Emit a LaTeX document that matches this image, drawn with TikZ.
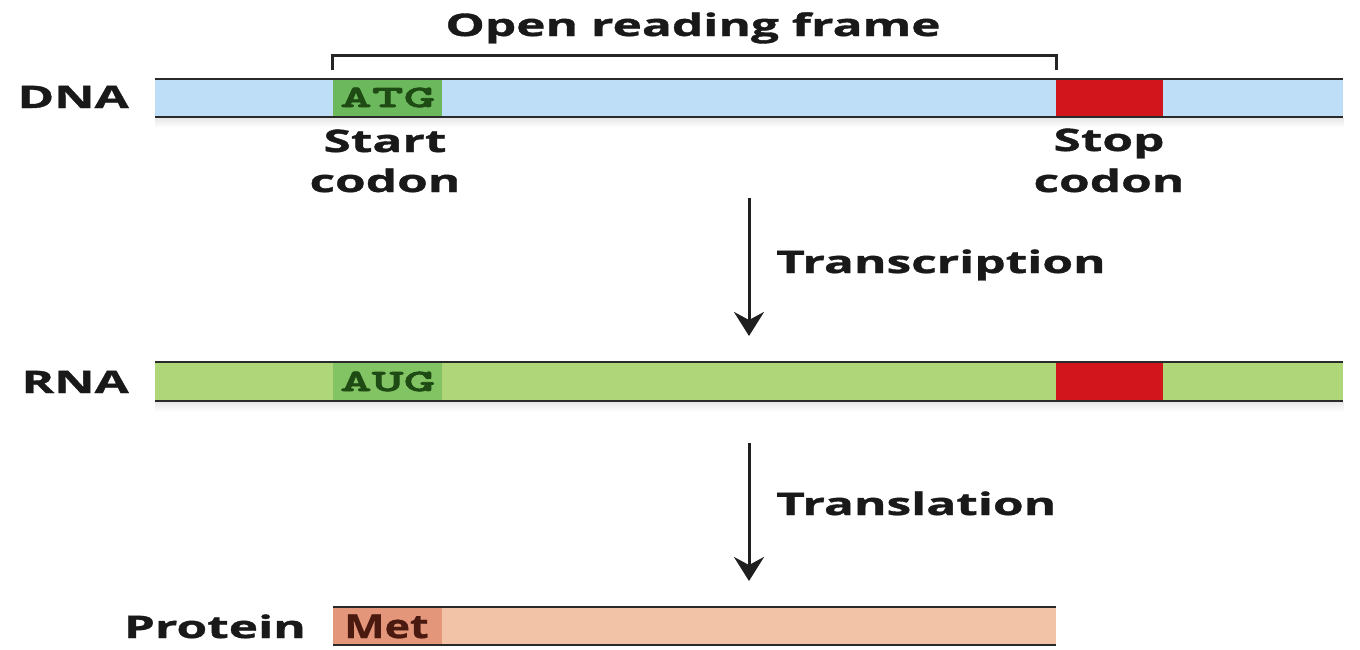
\documentclass[tikz,border=0pt]{standalone}
\usepackage{fontspec}
\setmainfont{Open Sans}
\newfontfamily\lblfont[FakeStretch=1.6,FakeBold=1.2]{Open Sans}
\newfontfamily\metfont[FakeStretch=1.3,FakeBold=0.8]{Open Sans}
\newfontfamily\codefont[FakeStretch=1.95,FakeBold=2.5]{lmmonolt10-bold.otf}
\usetikzlibrary{arrows.meta,calc}
\definecolor{dnablue}{HTML}{BEDDF7}
\definecolor{startgreen}{HTML}{6CB85C}
\definecolor{rnagreen}{HTML}{B0D67A}
\definecolor{auggreen}{HTML}{82C364}
\definecolor{stopred}{HTML}{D2141C}
\definecolor{protcol}{HTML}{F3C3A8}
\definecolor{metcol}{HTML}{E3967A}
\definecolor{codetext}{HTML}{1E4A14}
\definecolor{mettext}{HTML}{4A1A10}
\definecolor{edge}{HTML}{2A2A2A}
\begin{document}
\begin{tikzpicture}[x=1pt,y=-1pt,
  lbl/.style={font=\fontsize{31}{36}\lblfont\bfseries, text=black!90, inner sep=0pt},
  bar/.style={draw=none, inner sep=0pt},
  codetxt/.style={font=\fontsize{31}{34}\codefont, text=codetext, inner sep=0pt},
  edgeline/.style={draw=edge, line width=2pt},
  barshadow/.style={top color=black!10, bottom color=white, draw=none},
  flow/.style={line width=3pt, draw=black!88, -{Stealth[length=24pt,width=30pt,inset=8pt]}}]
\useasboundingbox (0,0) rectangle (1360,649);
% title and bracket
\node[lbl, anchor=base] (orf) at (693,36) {Open reading frame};
\coordinate (bl) at (332,70);
\coordinate (br) at (1056,70);
\draw[line width=3pt, draw=black!85] (bl) -- ++(0,-15) -- ($(br)+(0,-15)$) -- (br);
% DNA
\node[bar, fill=dnablue, minimum width=1188pt, minimum height=38pt, anchor=north west] (dna) at (155,79) {};
\shade[barshadow] (dna.south west) rectangle ($(dna.south east)+(0,10)$);
\node[bar, fill=startgreen, minimum width=109pt, minimum height=38pt, anchor=north west] (atg) at (333,79) {};
\node[bar, fill=stopred, minimum width=107pt, minimum height=38pt, anchor=north west] (stopd) at (1056,79) {};
\draw[edgeline] (dna.north west) -- (dna.north east) (dna.south west) -- (dna.south east);
\node[codetxt, anchor=base] (atgt) at (atg.center |- 0,107) {ATG};
\node[lbl, anchor=base east] (dnal) at (129,108) {DNA};
\node[lbl, anchor=base] (start1) at (385,152) {Start};
\node[lbl, anchor=base] (start2) at (385,192) {codon};
\node[lbl, anchor=base] (stop1) at (1109,151) {Stop};
\node[lbl, anchor=base] (stop2) at (1109,192) {codon};
% RNA
\node[bar, fill=rnagreen, minimum width=1188pt, minimum height=39pt, anchor=north west] (rna) at (155,362) {};
\shade[barshadow] (rna.south west) rectangle ($(rna.south east)+(0,10)$);
\node[bar, fill=auggreen, minimum width=109pt, minimum height=39pt, anchor=north west] (aug) at (333,362) {};
\node[bar, fill=stopred, minimum width=107pt, minimum height=39pt, anchor=north west] (stopr) at (1056,362) {};
\draw[edgeline] (rna.north west) -- (rna.north east) (rna.south west) -- (rna.south east);
\node[codetxt, anchor=base] (augt) at (aug.center |- 0,391) {AUG};
\node[lbl, anchor=base east] (rnal) at (129,393) {RNA};
% Protein
\node[bar, fill=protcol, minimum width=723pt, minimum height=38pt, anchor=north west] (prot) at (333,607) {};
\node[bar, fill=metcol, minimum width=109pt, minimum height=38pt, anchor=north west] (met) at (333,607) {};
\draw[edgeline] (prot.north west) -- (prot.north east) (prot.south west) -- (prot.south east);
\node[inner sep=0pt, anchor=base west, text=mettext, font=\fontsize{33}{36}\metfont\bfseries] (mett) at (344,638) {Met};
\node[lbl, anchor=base east] (protl) at (306,638) {Protein};
% arrows
\coordinate (a1s) at (749,198);
\coordinate (a1e) at (749,336);
\draw[flow] (a1s) -- (a1e);
\node[lbl, anchor=base west] (tc) at (776,273) {Transcription};
\coordinate (a2s) at (749,443);
\coordinate (a2e) at (749,581);
\draw[flow] (a2s) -- (a2e);
\node[lbl, anchor=base west] (tl) at (776,515) {Translation};
\end{tikzpicture}
\end{document}
